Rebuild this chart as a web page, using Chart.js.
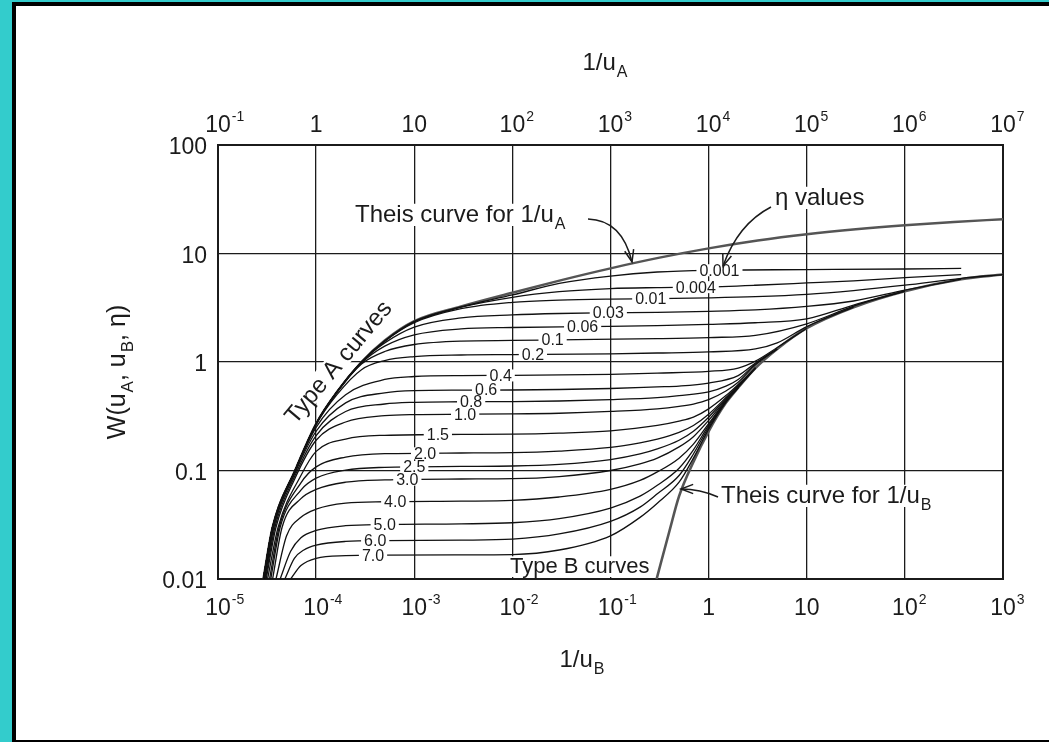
<!DOCTYPE html>
<html>
<head>
<meta charset="utf-8">
<script src="https://cdn.jsdelivr.net/npm/chart.js@4.4.1/dist/chart.umd.min.js"></script>
<style>
  html, body { margin: 0; padding: 0; background: #fff; }
  #wrap { position: relative; width: 1049px; height: 742px; overflow: hidden; background: #fff; }
  canvas { position: absolute; left: 0; top: 0; }
  .edge { position: absolute; z-index: 2; }
</style>
</head>
<body>
<div id="wrap">
  <canvas id="chart" width="1049" height="742"></canvas>
  <div class="edge" style="left:0;top:0;width:12px;height:742px;background:#33cccc"></div>
  <div class="edge" style="left:0;top:0;width:1049px;height:2px;background:#33cccc"></div>
  <div class="edge" style="left:12px;top:2px;width:4px;height:740px;background:#000"></div>
  <div class="edge" style="left:12px;top:2px;width:1037px;height:4px;background:#000"></div>
  <div class="edge" style="left:12px;top:740px;width:1037px;height:2px;background:#000"></div>
</div>
<script>
// axis ticks
const bottomTickValues = [1e-5, 1e-4, 1e-3, 1e-2, 1e-1, 1, 10, 100, 1000];
const bottomTickLabels = ['10^-5', '10^-4', '10^-3', '10^-2', '10^-1', '1', '10', '10^2', '10^3'];
const topTickValues = [1e-1, 1, 10, 100, 1e3, 1e4, 1e5, 1e6, 1e7];
const topTickLabels = ['10^-1', '1', '10', '10^2', '10^3', '10^4', '10^5', '10^6', '10^7'];
const leftTickValues = [0.01, 0.1, 1, 10, 100];
const leftTickLabels = ['0.01', '0.1', '1', '10', '100'];

// eta values, and the 1/uB value where each label sits on its curve
const etaNames = ['0.001', '0.004', '0.01', '0.03', '0.06', '0.1', '0.2', '0.4', '0.6', '0.8',
                  '1.0', '1.5', '2.0', '2.5', '3.0', '4.0', '5.0', '6.0', '7.0'];
const etaLabelX = [1.29, 0.74, 0.257, 0.095, 0.052, 0.0257, 0.0162, 7.6e-3, 5.4e-3, 3.8e-3,
                   3.3e-3, 1.74e-3, 1.29e-3, 1.0e-3, 8.5e-4, 6.4e-4, 5e-4, 4.0e-4, 3.8e-4];

// Theis curve for 1/uA  [1/uA, W]
const theisA = [[0.29,0.01],[0.36,0.03],[0.61,0.1],[1,0.27],[1.63,0.53],[2.9,1.0],[5,1.58],[10,2.38],
  [30,3.25],[100,4.35],[316,5.69],[1000,7.3],[3162,9.15],[1e4,11.15],[31623,13.17],[1e5,15.05],
  [316228,16.73],[1e6,18.22],[3162278,19.52],[1e7,20.68]];
// Theis curve for 1/uB  [1/uB, W]
const theisB = [[0.295,0.01],[0.4,0.028],[0.5,0.058],[0.7,0.12],[1,0.23],[1.5,0.42],[2,0.58],[3,0.88],
  [5,1.32],[10,2.05],[30,3.2],[100,4.5],[375,5.8],[1000,6.4]];

// type A + type B curves, one per eta  [1/uB, W]
const eta0001 = [[2.9e-5,0.01],[3.6e-5,0.03],[6.1e-5,0.1],[1e-4,0.27],[1.63e-4,0.53],[2.9e-4,1.0],[5e-4,1.57],
  [1e-3,2.37],[3e-3,3.22],[0.01,4.15],[0.03,5.3],[0.1,6.2],[0.3,6.75],[1,7.0],[10,7.1],[100,7.2],[375,7.3]];
const eta0004 = [[2.9e-5,0.01],[3.6e-5,0.03],[6.1e-5,0.1],[1e-4,0.27],[1.63e-4,0.53],[2.9e-4,1.0],[5e-4,1.56],
  [1e-3,2.35],[3e-3,3.2],[0.01,3.95],[0.03,4.45],[0.1,4.75],[0.3,4.85],[0.8,4.9],[3,5.1],[10,5.35],[30,5.6],
  [100,6.0],[375,6.4]];
const eta001 = [[2.9e-5,0.01],[3.6e-5,0.03],[6.1e-5,0.1],[1e-4,0.27],[1.63e-4,0.53],[2.9e-4,1.0],[5e-4,1.55],
  [1e-3,2.3],[3e-3,3.1],[0.01,3.55],[0.03,3.72],[0.1,3.8],[0.3,3.83],[1,3.9],[3,4.0],[10,4.2],[30,4.55],
  [100,5.1],[375,5.9],[1000,6.4]];
const eta003 = [[2.9e-5,0.01],[3.6e-5,0.03],[6.1e-5,0.1],[1e-4,0.27],[1.63e-4,0.53],[2.9e-4,1.0],[5e-4,1.5],
  [1e-3,2.1],[3e-3,2.55],[0.01,2.72],[0.03,2.8],[0.1,2.84],[0.3,2.87],[1,2.93],[3,3.02],[10,3.25],[30,3.65],
  [100,4.6],[375,5.8]];
const eta006 = [[2.9e-5,0.01],[3.6e-5,0.03],[6.1e-5,0.1],[1e-4,0.27],[1.63e-4,0.53],[2.9e-4,0.98],[5e-4,1.4],
  [1e-3,1.78],[3e-3,2.02],[0.01,2.08],[0.05,2.12],[0.3,2.16],[1,2.22],[3,2.3],[10,2.5],[30,3.35],[100,4.5]];
const eta01 = [[2.9e-5,0.01],[3.6e-5,0.03],[6.1e-5,0.1],[1e-4,0.27],[1.63e-4,0.53],[2.9e-4,0.96],[5e-4,1.25],
  [1e-3,1.45],[3e-3,1.56],[0.01,1.58],[0.03,1.6],[0.3,1.64],[1,1.68],[3,1.76],[10,2.25],[30,3.27],[100,4.5]];
const eta02 = [[2.95e-5,0.01],[3.6e-5,0.03],[6.1e-5,0.1],[1e-4,0.265],[1.63e-4,0.5],[2.9e-4,0.85],[5e-4,1.03],
  [1e-3,1.12],[3e-3,1.16],[0.01,1.17],[0.1,1.19],[0.3,1.21],[1,1.24],[3,1.32],[5,1.5],[10,2.12],[30,3.2]];
const eta04 = [[2.97e-5,0.01],[3.7e-5,0.03],[6.1e-5,0.098],[1e-4,0.25],[2e-4,0.5],[5e-4,0.69],[1e-3,0.735],
  [3e-3,0.75],[0.01,0.752],[0.1,0.77],[0.3,0.79],[1,0.82],[2,0.88],[3,1.02],[5,1.36],[10,2.05]];
const eta06 = [[3e-5,0.01],[3.7e-5,0.03],[6.1e-5,0.095],[1e-4,0.23],[2e-4,0.42],[5e-4,0.52],[1e-3,0.545],
  [3e-3,0.55],[0.01,0.552],[0.03,0.558],[0.1,0.57],[0.3,0.59],[0.5,0.6],[1,0.64],[2,0.75],[3,0.98],[5,1.32]];
const eta08 = [[3.05e-5,0.01],[3.8e-5,0.03],[6.1e-5,0.09],[1e-4,0.21],[2e-4,0.35],[5e-4,0.41],[1e-3,0.425],
  [3e-3,0.43],[0.01,0.432],[0.03,0.437],[0.1,0.45],[0.3,0.47],[0.5,0.49],[1,0.53],[1.5,0.6],[2,0.69],[3,0.96],[5,1.32]];
const eta10 = [[3.1e-5,0.01],[3.9e-5,0.03],[6.1e-5,0.085],[1e-4,0.19],[2e-4,0.28],[5e-4,0.32],[1e-3,0.328],
  [3e-3,0.33],[0.01,0.332],[0.03,0.337],[0.1,0.35],[0.3,0.37],[0.5,0.39],[0.7,0.41],[1,0.45],[1.5,0.54],[2,0.65],
  [3,0.94],[5,1.32]];
const eta15 = [[3.2e-5,0.01],[4.1e-5,0.03],[7e-5,0.09],[1e-4,0.15],[2e-4,0.195],[5e-4,0.211],[3e-3,0.215],
  [0.01,0.216],[0.03,0.221],[0.1,0.232],[0.3,0.26],[0.5,0.285],[0.7,0.31],[1,0.37],[1.5,0.49],[2,0.62],[3,0.88]];
const eta20 = [[3.35e-5,0.01],[4.2e-5,0.03],[7e-5,0.077],[1e-4,0.108],[2e-4,0.133],[5e-4,0.143],[3e-3,0.145],
  [0.01,0.146],[0.03,0.151],[0.1,0.163],[0.2,0.18],[0.3,0.195],[0.5,0.225],[0.7,0.26],[1,0.33],[1.5,0.47],[2,0.61],[3,0.88]];
const eta25 = [[3.45e-5,0.01],[4.3e-5,0.03],[7e-5,0.066],[1e-4,0.085],[2e-4,0.101],[5e-4,0.107],[3e-3,0.109],
  [0.01,0.11],[0.03,0.114],[0.1,0.126],[0.2,0.142],[0.3,0.158],[0.5,0.19],[0.7,0.23],[1,0.31],[1.5,0.46],[2,0.6],[3,0.88]];
const eta30 = [[3.6e-5,0.01],[4.5e-5,0.03],[7e-5,0.055],[1e-4,0.067],[2e-4,0.078],[5e-4,0.082],[3e-3,0.0835],
  [0.01,0.084],[0.03,0.088],[0.1,0.1],[0.2,0.115],[0.3,0.13],[0.5,0.165],[0.7,0.205],[1,0.29],[1.5,0.45],[2,0.59],[3,0.88]];
const eta40 = [[3.9e-5,0.01],[5e-5,0.025],[7e-5,0.037],[1e-4,0.044],[2e-4,0.05],[5e-4,0.0515],[3e-3,0.0522],
  [0.01,0.053],[0.03,0.057],[0.1,0.067],[0.2,0.081],[0.3,0.097],[0.5,0.13],[0.7,0.175],[1,0.27],[1.5,0.44],[2,0.585],[3,0.88]];
const eta50 = [[4.3e-5,0.01],[5.5e-5,0.018],[7e-5,0.024],[1e-4,0.028],[2e-4,0.031],[5e-4,0.0318],[3e-3,0.0322],
  [0.01,0.033],[0.03,0.036],[0.1,0.045],[0.2,0.058],[0.3,0.073],[0.5,0.105],[0.7,0.155],[1,0.26],[1.5,0.435],[2,0.58]];
const eta60 = [[4.8e-5,0.01],[6e-5,0.0155],[7.5e-5,0.0185],[1e-4,0.0205],[2e-4,0.0222],[5e-4,0.0226],[3e-3,0.0228],
  [0.01,0.0233],[0.03,0.026],[0.1,0.034],[0.2,0.046],[0.3,0.061],[0.5,0.09],[0.7,0.142],[1,0.25],[1.5,0.43],[2,0.58]];
const eta70 = [[5.5e-5,0.01],[7e-5,0.0133],[1e-4,0.0155],[2e-4,0.0164],[5e-4,0.0166],[3e-3,0.0167],
  [0.01,0.0168],[0.03,0.0185],[0.1,0.025],[0.2,0.037],[0.3,0.05],[0.5,0.078],[0.7,0.13],[1,0.24],[1.5,0.425],[2,0.58]];

const etaCurves = [eta0001, eta0004, eta001, eta003, eta006, eta01, eta02, eta04, eta06, eta08,
                   eta10, eta15, eta20, eta25, eta30, eta40, eta50, eta60, eta70];

const FONT = '"Liberation Sans", Arimo, Arial, sans-serif';
const INK = '#1b1b1b';

const toXY = pts => pts.map(([x, y]) => ({ x: x, y: y }));

const datasets = etaCurves.map((c, i) => ({
    label: 'eta ' + etaNames[i],
    data: toXY(c),
    xAxisID: 'x',
    borderColor: '#111',
    borderWidth: 1.3
}));
datasets.push({ label: 'Theis 1/uA', data: toXY(theisA), xAxisID: 'x2', borderColor: '#555', borderWidth: 2.4 });
datasets.push({ label: 'Theis 1/uB', data: toXY(theisB), xAxisID: 'x', borderColor: '#555', borderWidth: 2.6 });

// small rich-text helper: "_X" = subscript char, "^..." = superscript rest
function parseRich(s) {
    const parts = [];
    let buf = '';
    for (let i = 0; i < s.length; i++) {
        const c = s[i];
        if (c === '_') {
            if (buf) parts.push({ t: buf });
            buf = '';
            parts.push({ t: s[i + 1], sub: true });
            i++;
        } else if (c === '^') {
            if (buf) parts.push({ t: buf });
            buf = '';
            parts.push({ t: s.slice(i + 1), sup: true });
            break;
        } else {
            buf += c;
        }
    }
    if (buf) parts.push({ t: buf });
    return parts;
}
function partFont(p, size) {
    const s = p.sub ? Math.round(size * 0.68) : p.sup ? Math.round(size * 0.6) : size;
    return s + 'px ' + FONT;
}
function richWidth(ctx, s, size) {
    let w = 0;
    parseRich(s).forEach(p => {
        ctx.font = partFont(p, size);
        w += ctx.measureText(p.t).width + (p.sub || p.sup ? 1 : 0);
    });
    return w;
}
function drawRich(ctx, s, x, y, size, align) {
    const w = richWidth(ctx, s, size);
    let cx = align === 'center' ? x - w / 2 : align === 'right' ? x - w : x;
    ctx.textAlign = 'left';
    ctx.textBaseline = 'alphabetic';
    parseRich(s).forEach(p => {
        ctx.font = partFont(p, size);
        const dy = p.sub ? size * 0.3 : p.sup ? -size * 0.42 : 0;
        if (p.sub || p.sup) cx += 1;
        ctx.fillText(p.t, cx, y + dy);
        cx += ctx.measureText(p.t).width;
    });
    return w;
}
function boxedText(ctx, s, x, y, size, align) {
    const w = richWidth(ctx, s, size);
    const x0 = align === 'center' ? x - w / 2 : x;
    ctx.fillStyle = '#fff';
    ctx.fillRect(x0 - 4, y - size * 0.76, w + 8, size * 0.76 + 4);
    ctx.fillStyle = INK;
    drawRich(ctx, s, x, y, size, align);
}
function arrow(ctx, x0, y0, cx, cy, x1, y1) {
    ctx.beginPath();
    ctx.moveTo(x0, y0);
    ctx.quadraticCurveTo(cx, cy, x1, y1);
    ctx.stroke();
    const a = Math.atan2(y1 - cy, x1 - cx);
    const L = 13, s = 0.36;
    ctx.beginPath();
    ctx.moveTo(x1 - L * Math.cos(a - s), y1 - L * Math.sin(a - s));
    ctx.lineTo(x1, y1);
    ctx.lineTo(x1 - L * Math.cos(a + s), y1 - L * Math.sin(a + s));
    ctx.stroke();
}
// pixel y of a drawn curve at pixel x (straight between its points)
function curveY(chart, i, px) {
    const pts = chart.getDatasetMeta(i).data;
    for (let k = 0; k < pts.length - 1; k++) {
        const a = pts[k], b = pts[k + 1];
        if (px >= a.x && px <= b.x) return a.y + (b.y - a.y) * (px - a.x) / (b.x - a.x);
    }
    return pts[pts.length - 1].y;
}

const framePlugin = {
    id: 'frame',
    beforeDatasetsDraw(chart) {
        const { ctx, chartArea: a } = chart;
        ctx.save();
        ctx.strokeStyle = INK;
        ctx.lineWidth = 2;
        ctx.strokeRect(a.left, a.top, a.right - a.left, a.bottom - a.top);
        ctx.restore();
    }
};

const labelPlugin = {
    id: 'labels',
    afterDatasetsDraw(chart) {
        const ctx = chart.ctx;
        const xs = chart.scales.x;
        ctx.save();
        // eta labels sitting on their curves
        ctx.font = '16px ' + FONT;
        etaNames.forEach((name, i) => {
            const px = xs.getPixelForValue(etaLabelX[i]);
            const py = curveY(chart, i, px);
            const w = ctx.measureText(name).width;
            ctx.fillStyle = '#fff';
            ctx.fillRect(px - w / 2 - 3, py - 6, w + 6, 12);
            ctx.fillStyle = INK;
            ctx.textAlign = 'center';
            ctx.textBaseline = 'middle';
            ctx.fillText(name, px, py + 1);
        });

        // annotations
        boxedText(ctx, 'Theis curve for 1/u_A', 355, 222, 24, 'left');
        boxedText(ctx, '\u03b7 values', 775, 205, 24, 'left');
        boxedText(ctx, 'Theis curve for 1/u_B', 721, 503, 24, 'left');
        boxedText(ctx, 'Type B curves', 510, 573, 22, 'left');

        ctx.save();
        ctx.translate(344, 367);
        ctx.rotate(-50 * Math.PI / 180);
        const tw = richWidth(ctx, 'Type A curves', 24);
        ctx.fillStyle = '#fff';
        ctx.fillRect(-tw / 2 - 3, -19, tw + 6, 21);
        ctx.fillStyle = INK;
        drawRich(ctx, 'Type A curves', 0, 0, 24, 'center');
        ctx.restore();

        ctx.strokeStyle = INK;
        ctx.lineWidth = 1.5;
        arrow(ctx, 588, 219, 622, 220, 632, 262);
        arrow(ctx, 771, 207, 738, 224, 723, 266);
        arrow(ctx, 718, 497, 700, 489, 681, 489);
        ctx.restore();
    },
    afterDraw(chart) {
        const ctx = chart.ctx;
        const { x, x2, y } = chart.scales;
        ctx.save();
        ctx.fillStyle = INK;
        const tick = (label, cx, base) => {
            const p = label.split('^');
            ctx.font = '23px ' + FONT;
            const wb = ctx.measureText(p[0]).width;
            ctx.textAlign = 'center';
            ctx.textBaseline = 'alphabetic';
            ctx.fillText(p[0], cx, base);
            if (p[1]) {
                ctx.font = '14px ' + FONT;
                ctx.textAlign = 'left';
                ctx.fillText(p[1], cx + wb / 2 + 1, base - 11);
            }
        };
        bottomTickValues.forEach((v, i) => tick(bottomTickLabels[i], x.getPixelForValue(v), 615));
        topTickValues.forEach((v, i) => tick(topTickLabels[i], x2.getPixelForValue(v), 132));
        ctx.font = '23px ' + FONT;
        ctx.textAlign = 'right';
        ctx.textBaseline = 'middle';
        leftTickValues.forEach((v, i) => ctx.fillText(leftTickLabels[i], 207, y.getPixelForValue(v) + 3));

        drawRich(ctx, '1/u_A', 605, 70, 24, 'center');
        drawRich(ctx, '1/u_B', 582, 667, 24, 'center');
        ctx.save();
        ctx.translate(125, 372);
        ctx.rotate(-Math.PI / 2);
        drawRich(ctx, 'W(u_A, u_B, \u03b7)', 0, 0, 25, 'center');
        ctx.restore();
        ctx.restore();
    }
};

const gridStyle = { color: INK, lineWidth: 1.3, drawTicks: false };

new Chart(document.getElementById('chart'), {
    type: 'line',
    data: { datasets: datasets },
    options: {
        responsive: false,
        animation: false,
        events: [],
        layout: { padding: { left: 218, right: 46, top: 145, bottom: 163 } },
        elements: {
            point: { radius: 0 },
            line: { cubicInterpolationMode: 'monotone', fill: false }
        },
        plugins: {
            legend: { display: false },
            tooltip: { enabled: false }
        },
        scales: {
            x: {
                type: 'logarithmic',
                position: 'bottom',
                min: 1e-5,
                max: 1e3,
                afterBuildTicks: s => { s.ticks = bottomTickValues.map(v => ({ value: v })); },
                afterFit: s => { s.height = 0; },
                ticks: { display: false },
                grid: gridStyle,
                border: { display: false }
            },
            x2: {
                type: 'logarithmic',
                position: 'top',
                min: 0.1,
                max: 1e7,
                afterBuildTicks: s => { s.ticks = topTickValues.map(v => ({ value: v })); },
                afterFit: s => { s.height = 0; },
                ticks: { display: false },
                grid: { display: false },
                border: { display: false }
            },
            y: {
                type: 'logarithmic',
                min: 0.01,
                max: 100,
                afterBuildTicks: s => { s.ticks = leftTickValues.map(v => ({ value: v })); },
                afterFit: s => { s.width = 0; },
                ticks: { display: false },
                grid: gridStyle,
                border: { display: false }
            }
        }
    },
    plugins: [framePlugin, labelPlugin]
});
</script>
</body>
</html>
